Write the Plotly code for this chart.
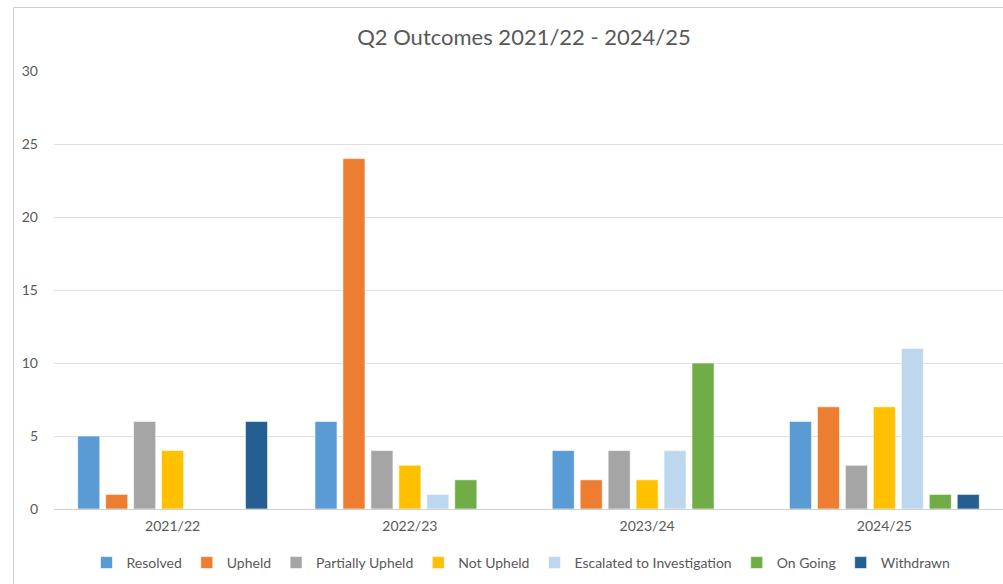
import plotly.graph_objects as go

years = ["2021/22", "2022/23", "2023/24", "2024/25"]

resolved = [5, 6, 4, 6]
upheld = [1, 24, 2, 7]
partially_upheld = [6, 4, 4, 3]
not_upheld = [4, 3, 2, 7]
escalated = [0, 1, 4, 11]
on_going = [0, 2, 10, 1]
withdrawn = [6, 0, 0, 1]

series = [
    ("Resolved", resolved, "#5B9BD5"),
    ("Upheld", upheld, "#ED7D31"),
    ("Partially Upheld", partially_upheld, "#A5A5A5"),
    ("Not Upheld", not_upheld, "#FFC000"),
    ("Escalated to Investigation", escalated, "#BDD7EE"),
    ("On Going", on_going, "#70AD47"),
    ("Withdrawn", withdrawn, "#255E91"),
]

FONT = "Lato, Carlito, Open Sans, sans-serif"
TEXT = "#595959"

fig = go.Figure()
for name, vals, color in series:
    fig.add_trace(go.Bar(
        x=years,
        y=[v if v else None for v in vals],
        name=name,
        marker=dict(color=color, line=dict(color="rgba(255,255,255,0.6)", width=1)),
    ))

W, H = 1003, 584
L, R, T, B = 54, 0, 71, 75
pw, ph = W - L - R, H - T - B

fig.update_layout(
    width=W, height=H,
    margin=dict(l=L, r=R, t=T, b=B),
    paper_bgcolor="white",
    plot_bgcolor="white",
    font=dict(family=FONT, size=14, color=TEXT),
    title=dict(text="Q2 Outcomes 2021/22 - 2024/25", x=(524 - L) / pw, xref="paper",
               xanchor="center", y=1 - 37 / H, yanchor="middle",
               font=dict(size=22, color=TEXT, family=FONT)),
    barmode="group",
    bargap=0.175,
    bargroupgap=0.21,
    showlegend=True,
    legend=dict(orientation="h", x=(521 - L) / pw, xanchor="center",
                y=-(563 - (T + ph)) / ph, yanchor="middle",
                font=dict(size=14, color=TEXT, family=FONT),
                itemwidth=30, itemclick=False, traceorder="normal"),
    xaxis=dict(showgrid=False, showline=True, linecolor="#D0D0D0", linewidth=1,
               ticks="", tickfont=dict(size=14, color=TEXT), ticklabelstandoff=4),
    yaxis=dict(range=[0, 30], dtick=5, showgrid=True, gridcolor="#E0E0E0", gridwidth=1,
               zeroline=False, showline=False, ticks="",
               tickfont=dict(size=14, color=TEXT), ticklabelstandoff=15),
)

# Chart area frame
fig.add_shape(type="rect", xref="paper", yref="paper",
              x0=(13.5 - L) / pw, x1=1.2, y0=-0.5, y1=(T + ph - 7.5) / ph,
              line=dict(color="#D0D0D0", width=1), fillcolor="rgba(0,0,0,0)", layer="below")

fig.write_html("out.html")
